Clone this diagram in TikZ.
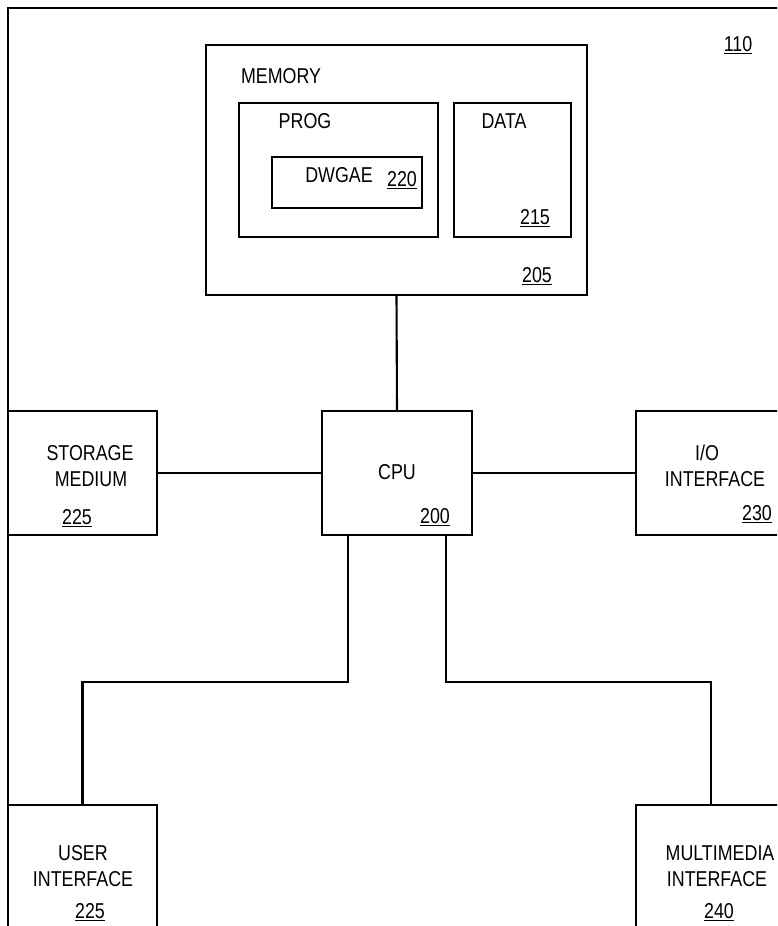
\documentclass[tikz,border=0pt]{standalone}
\usepackage{fontspec}
\setmainfont{Liberation Sans}[FakeStretch=0.83]
\begin{document}
\begin{tikzpicture}[x=1pt,y=-1pt,
  box/.style={draw=black, line width=2.1pt, inner sep=0pt, outer sep=0pt, anchor=north west},
  wire/.style={draw=black, line width=2.1pt},
  txt/.style={inner sep=0pt, text height=15pt, text depth=0pt, font=\fontsize{21.5}{25}\selectfont}]
\useasboundingbox (0,0) rectangle (777,926);
\clip (0,0) rectangle (777,926);
\fill[white] (0,0) rectangle (777,926);
% outer system frame
\node[box, minimum width=800pt, minimum height=960pt] (sys) at (8,8) {};
\node[txt] (sysn) at (738,44) {\underline{110}};
% memory
\node[box, minimum width=381pt, minimum height=250pt] (mem) at (206,45) {};
\node[txt] (memt) at (281,76) {MEMORY};
\node[txt] (memn) at (537,275) {\underline{205}};
\node[box, minimum width=199pt, minimum height=134pt] (prog) at (239,103) {};
\node[txt] (progt) at (305,121) {PROG};
\node[box, minimum width=150pt, minimum height=51pt] (dwg) at (272,157) {};
\node[txt] (dwgt) at (339,175) {DWGAE};
\node[txt] (dwgn) at (402,179) {\underline{220}};
\node[box, minimum width=117pt, minimum height=134pt] (data) at (454,103) {};
\node[txt] (datat) at (504,121) {DATA};
\node[txt] (datan) at (535,217) {\underline{215}};
% middle row
\node[box, minimum width=149pt, minimum height=124pt] (sto) at (8,411) {};
\node[txt] (stot1) at (90,453) {STORAGE};
\node[txt] (stot2) at (91,479) {MEDIUM};
\node[txt] (ston) at (77,517) {\underline{225}};
\node[box, minimum width=150pt, minimum height=124pt] (cpu) at (322,411) {};
\node[txt] (cput) at (397,472) {CPU};
\node[txt] (cpun) at (435,516) {\underline{200}};
\node[box, minimum width=150pt, minimum height=124pt] (io) at (636,411) {};
\node[txt] (iot1) at (707,453) {I/O};
\node[txt] (iot2) at (715,479) {INTERFACE};
\node[txt] (ion) at (757,513) {\underline{230}};
% bottom row
\node[box, minimum width=149pt, minimum height=130pt] (ui) at (8,805) {};
\node[txt] (uit1) at (83,853) {USER};
\node[txt] (uit2) at (83,879) {INTERFACE};
\node[txt] (uin) at (90,911) {\underline{225}};
\node[box, minimum width=150pt, minimum height=130pt] (mm) at (636,805) {};
\node[txt] (mmt1) at (720,853) {MULTIMEDIA};
\node[txt] (mmt2) at (717,879) {INTERFACE};
\node[txt] (mmn) at (719,911) {\underline{240}};
% connectors
\coordinate (bus) at (0,682);
\draw[wire] (mem.south) -- (cpu.north);
\draw[wire] (sto.east) -- (cpu.west);
\draw[wire] (cpu.east) -- (io.west);
\draw[wire] ([xshift=26pt]cpu.south west) |- (bus -| ui.north) -- (ui.north);
\draw[wire] ([xshift=-26pt]cpu.south east) |- (bus -| mm.north) -- (mm.north);
\end{tikzpicture}
\end{document}
